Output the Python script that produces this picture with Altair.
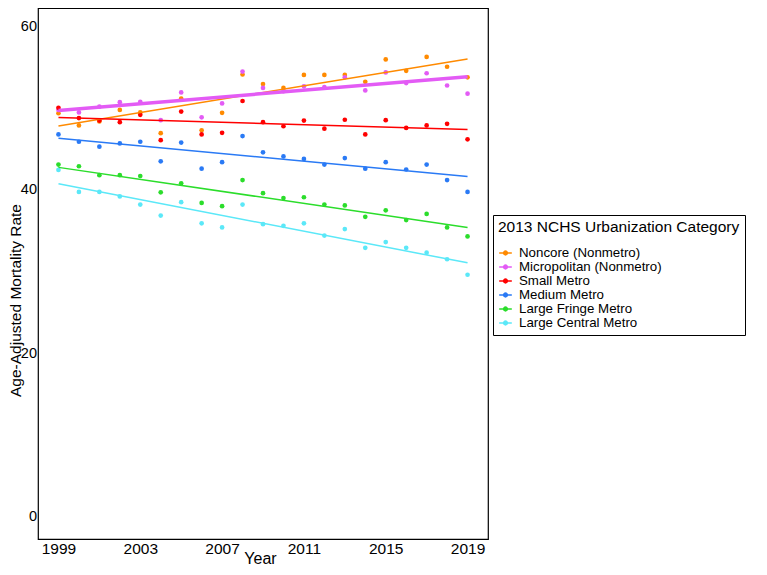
import altair as alt
import pandas as pd

years = list(range(1999, 2020))
categories = [
    "Noncore (Nonmetro)",
    "Micropolitan (Nonmetro)",
    "Small Metro",
    "Medium Metro",
    "Large Fringe Metro",
    "Large Central Metro",
]
colors = ["#FF8A00", "#E35BF5", "#FF0000", "#2A7AF5", "#2BDD2B", "#5BE8F8"]

noncore = [49.4, 47.9, 48.4, 49.8, 49.5, 46.95, 51.2, 47.3, 49.45, 54.15, 52.97,
           52.5, 54.1, 54.1, 54.1, 53.25, 56.0, 54.6, 56.3, 55.1, 53.8]
micropolitan = [49.8, 49.5, 50.2, 50.75, 50.8, 48.55, 51.95, 48.9, 50.6, 54.5, 52.5,
                52.1, 52.7, 52.6, 53.8, 52.2, 54.4, 53.1, 54.3, 52.8, 51.8]
small_metro = [50.06, 48.8, 48.5, 48.3, 49.2, 46.1, 49.6, 46.8, 47.0, 50.9, 48.3,
               47.8, 48.5, 47.5, 48.6, 46.8, 48.55, 47.6, 47.9, 48.1, 46.2]
medium_metro = [46.8, 45.9, 45.3, 45.7, 45.9, 43.5, 45.8, 42.6, 43.4, 46.6, 44.6,
                44.1, 43.8, 43.1, 43.9, 42.6, 43.4, 42.5, 43.1, 41.2, 39.75]
large_fringe = [43.1, 42.9, 41.8, 41.8, 41.7, 39.7, 40.8, 38.4, 38.0, 41.2, 39.6,
                39.0, 39.1, 38.2, 38.1, 36.7, 37.5, 36.3, 37.05, 35.4, 34.3]
large_central = [42.45, 39.75, 39.75, 39.2, 38.2, 36.85, 38.5, 35.9, 35.4, 38.2, 35.8,
                 35.6, 35.9, 34.4, 35.2, 32.9, 33.6, 32.9, 32.3, 31.5, 29.6]

x_ticks = [1999, 2003, 2007, 2011, 2015, 2019]
y_ticks = [0, 20, 40, 60]

series = [noncore, micropolitan, small_metro, medium_metro, large_fringe, large_central]
rows = []
for cat, vals in zip(categories, series):
    for yr, v in zip(years, vals):
        rows.append({"year": yr, "rate": v, "cat": cat})
df = pd.DataFrame(rows)

FONT = "Liberation Sans"

x_enc = alt.X(
    "year:Q",
    scale=alt.Scale(domain=[1998, 2020], nice=False, zero=False),
    axis=alt.Axis(values=x_ticks, format="d", title="Year", labelPadding=2,
                  titleX=222, titleY=24.5, titleBaseline="alphabetic",
                  labelFontSize=15.5, titleFontSize=16),
)
y_enc = alt.Y(
    "rate:Q",
    scale=alt.Scale(domain=[-2.8, 62.3], nice=False, zero=False),
    axis=alt.Axis(values=y_ticks, title="Age-Adjusted Mortality Rate", labelPadding=1.5,
                  titleX=-17.5, titleY=292, titleBaseline="alphabetic",
                  labelFontSize=14.5, titleFontSize=15.5),
)

sym_path = "M-1,0H1M-0.3,0A0.3,0.3,0,1,1,0.3,0A0.3,0.3,0,1,1,-0.3,0Z"
legend = alt.Legend(
    title="2013 NCHS Urbanization Category",
    orient="none",
    legendX=455,
    legendY=207,
    symbolType=sym_path,
    symbolSize=160,
    symbolStrokeWidth=1.5,
    strokeColor="black",
    padding=5,
    titleFontSize=15.5,
    titleFontWeight="normal",
    titleFont=FONT,
    titleColor="black",
    titleLimit=500,
    labelFontSize=13.3,
    labelFont=FONT,
    labelColor="black",
    labelLimit=400,
    labelOffset=6,
    rowPadding=-2,
    titlePadding=10,
)

scale_c = alt.Scale(domain=categories, range=colors)

lines = (
    alt.Chart(df)
    .transform_regression("year", "rate", groupby=["cat"], extent=[1999, 2019])
    .mark_line()
    .encode(
        x=x_enc,
        y=y_enc,
        stroke=alt.Stroke("cat:N", scale=scale_c, legend=legend, sort=categories),
        strokeWidth=alt.condition(alt.datum.cat == "Micropolitan (Nonmetro)",
                                  alt.value(3.5), alt.value(1.5)),
    )
)

points = (
    alt.Chart(df)
    .mark_circle(size=22, opacity=1)
    .encode(
        x=x_enc,
        y=y_enc,
        fill=alt.Fill("cat:N", scale=scale_c, legend=legend, sort=categories),
    )
)

chart = (
    alt.layer(points, lines)
    .properties(width=450, height=531, autosize=alt.AutoSizeParams(type="none"),
                padding={"left": 30, "top": 0, "right": 270, "bottom": 28})
    .configure_view(stroke="black", strokeWidth=1.2)
    .configure_axis(domain=False, ticks=False, grid=False, labelFont=FONT, titleFont=FONT,
                    labelColor="black", titleColor="black", titleFontWeight="normal")
)

chart.save("out.html", embed_options={"renderer": "svg", "actions": False})
